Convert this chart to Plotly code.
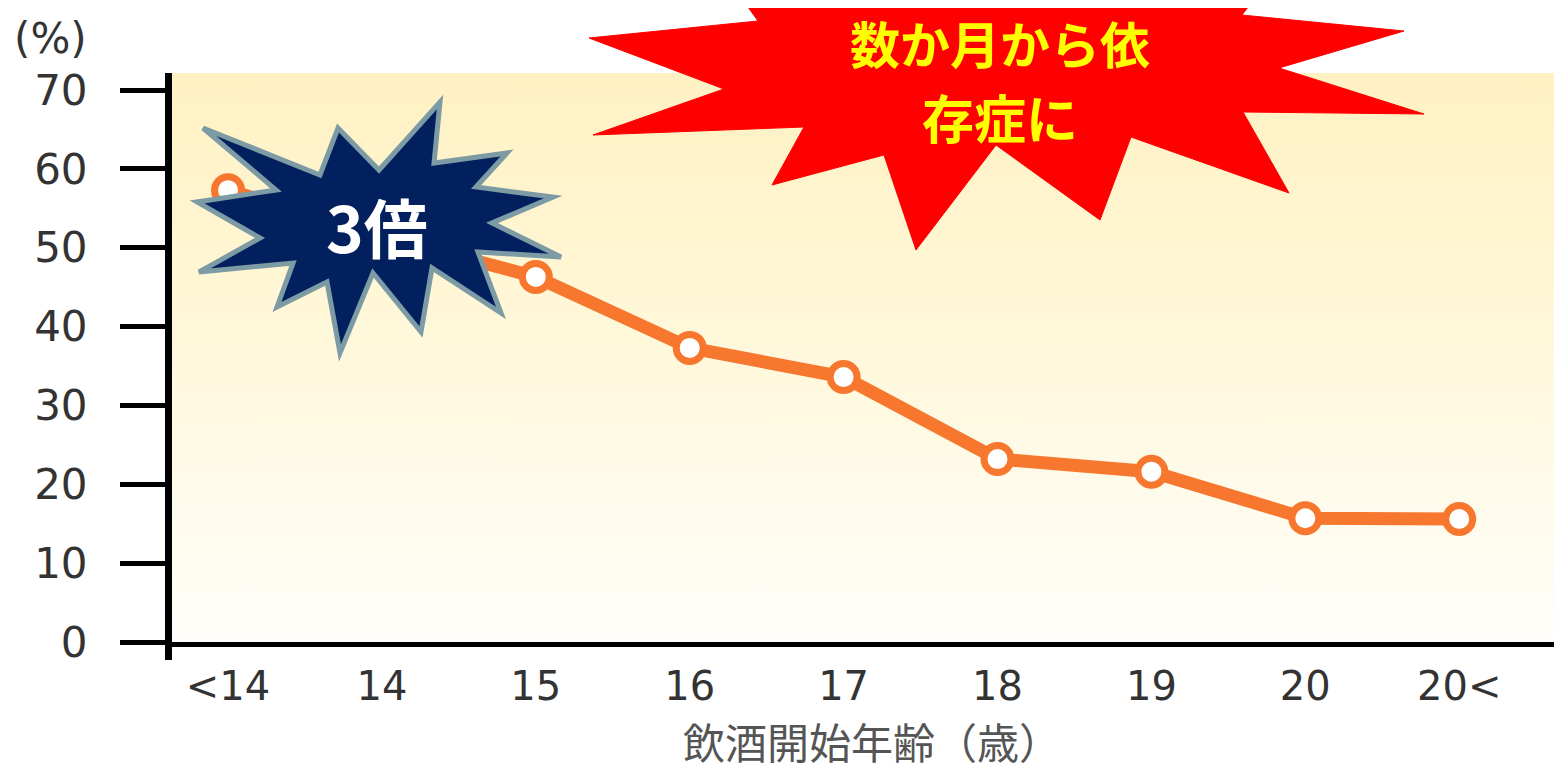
import plotly.graph_objects as go

# data
ages = ["<14", "14", "15", "16", "17", "18", "19", "20", "20<"]
rates = [57.3, 51.5, 46.3, 37.3, 33.6, 23.2, 21.6, 15.7, 15.6]
y_ticks = [0, 10, 20, 30, 40, 50, 60, 70]

W, H = 1562, 773
OFF = 8  # page body margin in the browser
L, R, T, B = 164, 8, 65, 139
PW, PH = W - L - R, H - T - B
X_RANGE = [-0.364, 8.668]
Y_RANGE = [0, 72.16]


def px(x, y):
    # screenshot pixels -> paper coords
    return (x - OFF - L) / PW, (H - B - (y - OFF)) / PH


def star_path(pts):
    conv = [px(x, y) for x, y in pts]
    return "M " + " L ".join(f"{a:.5f},{b:.5f}" for a, b in conv) + " Z"


navy_star = [
    (203, 128), (320, 175), (338, 128), (379, 170), (440, 102), (434, 163),
    (507, 153), (476, 187), (553, 197), (492, 223), (561, 257), (478, 252),
    (501, 313), (432, 268), (421, 332), (373, 273), (340, 353), (327, 282),
    (277, 307), (293, 263), (199, 272), (260, 238), (197, 202), (276, 190),
]

red_star = [
    (700, -60), (758, 21), (589, 38), (724, 89), (593, 135), (804, 127),
    (772, 185), (884, 155), (916, 250), (996, 145), (1100, 220), (1131, 137),
    (1289, 193), (1243, 112), (1424, 114), (1279, 68), (1404, 31), (1242, 15),
    (1300, -60),
]

xs = list(range(len(ages)))

fig = go.Figure()

# plot area background: pale yellow fading to white
fig.add_trace(go.Scatter(
    x=[X_RANGE[0], X_RANGE[1], X_RANGE[1], X_RANGE[0]],
    y=[Y_RANGE[0], Y_RANGE[0], Y_RANGE[1], Y_RANGE[1]],
    fill="toself",
    mode="none",
    fillgradient=dict(type="vertical", start=0, stop=Y_RANGE[1],
                      colorscale=[[0, "#FFFEFA"], [0.5, "#FFF8DC"], [1, "#FFF1C2"]]),
    hoverinfo="skip",
    showlegend=False,
))

fig.add_trace(go.Scatter(
    x=xs,
    y=rates,
    mode="lines+markers",
    line=dict(color="#F7772F", width=13),
    marker=dict(size=27, color="white", line=dict(color="#F7772F", width=7)),
    showlegend=False,
))

fig.update_xaxes(
    range=X_RANGE,
    tickvals=xs,
    ticktext=ages,
    showgrid=False,
    zeroline=False,
    showline=True,
    linewidth=5,
    linecolor="black",
    ticks="",
    ticklabelstandoff=5,
    tickfont=dict(family="DejaVu Sans", size=40, color="#333333"),
)
fig.update_yaxes(
    range=Y_RANGE,
    tickvals=y_ticks,
    showgrid=False,
    zeroline=False,
    showline=True,
    linewidth=7,
    linecolor="black",
    ticks="outside",
    ticklen=45,
    tickwidth=5,
    tickcolor="black",
    ticklabelstandoff=24,
    tickfont=dict(family="DejaVu Sans", size=42, color="#333333"),
)

x_ax, _ = px(168.5, 0)
_, y_lo = px(0, 660)
shapes = [
    dict(type="line", xref="paper", yref="paper", x0=x_ax, x1=x_ax, y0=y_lo, y1=0,
         line=dict(color="black", width=7), layer="above"),
    dict(type="path", xref="paper", yref="paper", path=star_path(red_star),
         fillcolor="#FF0000", line=dict(color="#FF0000", width=1), layer="above"),
    dict(type="path", xref="paper", yref="paper", path=star_path(navy_star),
         fillcolor="#03205E", line=dict(color="#7D9BA4", width=5), layer="above"),
]

annotations = []
ax, ay = px(12, 38)
annotations.append(dict(xref="paper", yref="paper", x=ax, y=ay, xanchor="left", yanchor="middle",
                        text="(%)", showarrow=False,
                        font=dict(family="DejaVu Sans", size=42, color="#333333")))
ax, ay = px(872, 773)
annotations.append(dict(xref="paper", yref="paper", x=ax, y=ay, xanchor="center", yanchor="bottom",
                        text="飲酒開始年齢（歳）", showarrow=False,
                        font=dict(family="Noto Sans CJK JP", size=42, color="#555555")))
ax, ay = px(377, 225)
annotations.append(dict(xref="paper", yref="paper", x=ax, y=ay, xanchor="center", yanchor="middle",
                        text="<b>3倍</b>", showarrow=False,
                        font=dict(family="Noto Sans CJK JP", size=64, color="white")))
ax, ay = px(1000, 42)
annotations.append(dict(xref="paper", yref="paper", x=ax, y=ay, xanchor="center", yanchor="middle",
                        text="<b>数か月から依</b>", showarrow=False,
                        font=dict(family="Noto Sans CJK JP", size=50, color="#FFFF00")))
ax, ay = px(1000, 116)
annotations.append(dict(xref="paper", yref="paper", x=ax, y=ay, xanchor="center", yanchor="middle",
                        text="<b>存症に</b>", showarrow=False,
                        font=dict(family="Noto Sans CJK JP", size=52, color="#FFFF00")))

fig.update_layout(
    width=W,
    height=H,
    margin=dict(l=L, r=R, t=T, b=B),
    paper_bgcolor="white",
    plot_bgcolor="white",
    shapes=shapes,
    annotations=annotations,
)

fig.write_html("out.html")
